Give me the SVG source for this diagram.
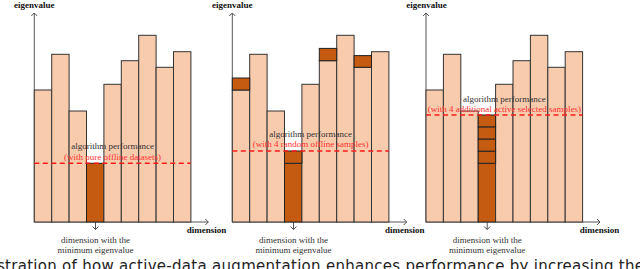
<svg xmlns="http://www.w3.org/2000/svg" width="640" height="269" viewBox="0 0 640 269">
<defs>
<style>
.lb{fill:#F8CBAD;stroke:#333;stroke-width:1}
.db{fill:#C55A11;stroke:#222;stroke-width:1}
.perf{stroke:#FF1A1A;stroke-width:1.6;stroke-dasharray:5 3.5;fill:none}
.axis{stroke:#555;stroke-width:1;fill:none}
.ax{font-family:"Liberation Serif",serif;font-weight:bold;font-size:9px;fill:#111;text-anchor:middle}
.lbl{font-family:"Liberation Serif",serif;font-size:9px;fill:#333;text-anchor:middle}
.red{font-family:"Liberation Serif",serif;font-size:9px;fill:#FF3030;text-anchor:middle}
.cap{font-family:"DejaVu Sans",sans-serif;font-size:15px;fill:#222}
</style>
<marker id="arr" markerWidth="8" markerHeight="8" refX="4" refY="4" orient="auto" markerUnits="userSpaceOnUse">
<path d="M1,1 L4,4 L1,7" fill="none" stroke="#444" stroke-width="0.9"/>
</marker>
<g id="base-bars">
<rect class="lb" x="0" y="90" width="17.4" height="132"/>
<rect class="lb" x="17.4" y="54.3" width="17.4" height="167.7"/>
<rect class="lb" x="34.8" y="111" width="17.4" height="111"/>
<rect class="db" x="52.2" y="163.3" width="17.4" height="58.7"/>
<rect class="lb" x="69.6" y="84.3" width="17.4" height="137.7"/>
<rect class="lb" x="87" y="60.7" width="17.4" height="161.3"/>
<rect class="lb" x="104.4" y="35.3" width="17.4" height="186.7"/>
<rect class="lb" x="121.8" y="67.3" width="17.4" height="154.7"/>
<rect class="lb" x="139.2" y="51.7" width="17.4" height="170.3"/>
</g>
</defs>

<g id="connectors">
<line class="axis" x1="34.3" y1="222" x2="34.3" y2="13" marker-end="url(#arr)"/>
<line class="axis" x1="34.3" y1="222" x2="208.3" y2="222" marker-end="url(#arr)"/>
<line class="axis" x1="95.5" y1="222" x2="95.5" y2="229.5" marker-end="url(#arr)"/>
<line class="axis" x1="232.3" y1="222" x2="232.3" y2="13" marker-end="url(#arr)"/>
<line class="axis" x1="232.3" y1="222" x2="406.7" y2="222" marker-end="url(#arr)"/>
<line class="axis" x1="293.5" y1="222" x2="293.5" y2="229.5" marker-end="url(#arr)"/>
<line class="axis" x1="426" y1="222" x2="426" y2="13" marker-end="url(#arr)"/>
<line class="axis" x1="426" y1="222" x2="600" y2="222" marker-end="url(#arr)"/>
<line class="axis" x1="487.2" y1="222" x2="487.2" y2="229.5" marker-end="url(#arr)"/>
</g>

<g id="panel1">
<g transform="translate(34.3,0)">
<use href="#base-bars"/>
<line class="perf" x1="0" y1="163.3" x2="156.6" y2="163.3"/>
</g>
<text class="ax" x="34.3" y="8">eigenvalue</text>
<text class="ax" x="206.5" y="232.5">dimension</text>
<text class="lbl" x="112.6" y="149">algorithm performance</text>
<text class="red" x="112.6" y="159.6">(with pure offline datasets)</text>
<text class="lbl" x="95.5" y="243.2">dimension with the</text>
<text class="lbl" x="95.5" y="253.4">minimum eigenvalue</text>
</g>

<g id="panel2">
<g transform="translate(232.3,0)">
<use href="#base-bars"/>
<rect class="db" x="0" y="78" width="17.4" height="12"/>
<rect class="db" x="52.2" y="151" width="17.4" height="12.3"/>
<rect class="db" x="87" y="48.4" width="17.4" height="12.3"/>
<rect class="db" x="121.8" y="55.6" width="17.4" height="11.7"/>
<line class="perf" x1="0" y1="151" x2="156.6" y2="151"/>
</g>
<text class="ax" x="232.3" y="8">eigenvalue</text>
<text class="ax" x="404.7" y="232.5">dimension</text>
<text class="lbl" x="310.6" y="136.7">algorithm performance</text>
<text class="red" x="310.6" y="147.3">(with 4 random offline samples)</text>
<text class="lbl" x="293.5" y="243.2">dimension with the</text>
<text class="lbl" x="293.5" y="253.4">minimum eigenvalue</text>
</g>

<g id="panel3">
<g transform="translate(426,0)">
<use href="#base-bars"/>
<rect class="db" x="52.2" y="115" width="17.4" height="12.1"/>
<rect class="db" x="52.2" y="127.1" width="17.4" height="12.1"/>
<rect class="db" x="52.2" y="139.2" width="17.4" height="12.1"/>
<rect class="db" x="52.2" y="151.3" width="17.4" height="12"/>
<line class="perf" x1="0" y1="115" x2="156.6" y2="115"/>
</g>
<text class="ax" x="426.5" y="8">eigenvalue</text>
<text class="ax" x="599.5" y="232.5">dimension</text>
<text class="lbl" x="504.3" y="101.5">algorithm performance</text>
<text class="red" x="504.3" y="111.8">(with 4 additional active selected samples)</text>
<text class="lbl" x="487.2" y="243.2">dimension with the</text>
<text class="lbl" x="487.2" y="253.4">minimum eigenvalue</text>
</g>

<g id="caption">
<text class="cap" x="-3" y="270.5" textLength="647">stration of how active-data augmentation enhances performance by increasing the</text>
</g>
</svg>
